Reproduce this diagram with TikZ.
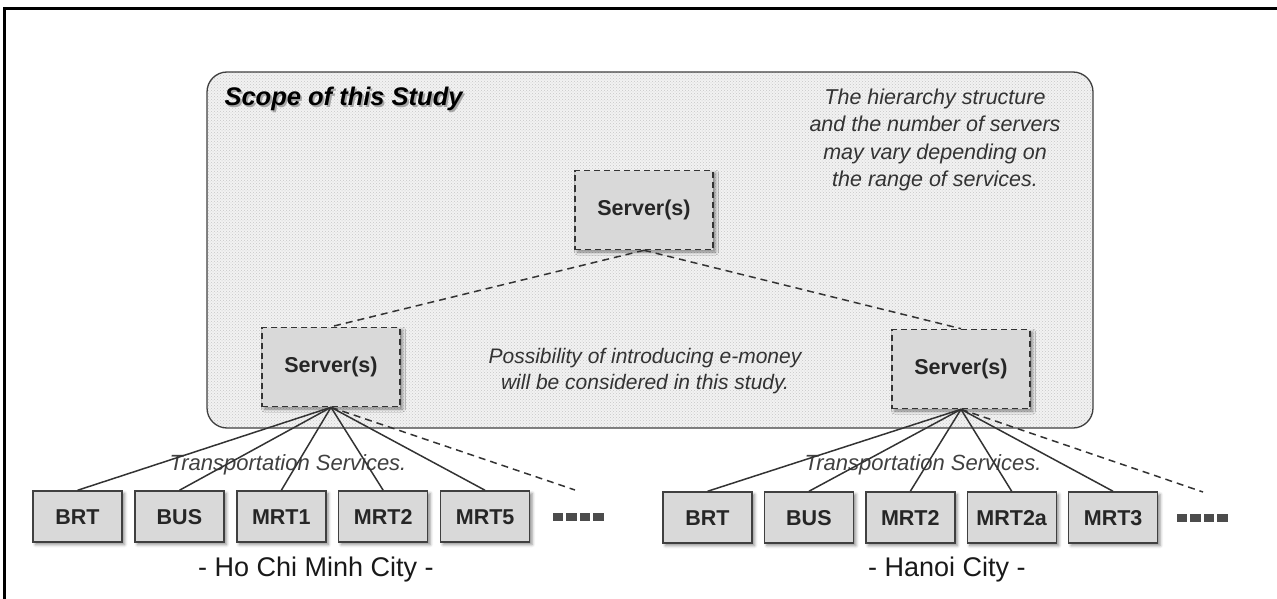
\documentclass[tikz,border=0pt]{standalone}
\usepackage{fontspec}
\setmainfont{Liberation Sans}
\usetikzlibrary{positioning,shadows.blur,patterns}

% little squares standing for further modes
\newcommand\moresq{\textcolor{black!70}{\rule{10.5pt}{8pt}}}
% text with a soft grey copy behind it
\newcommand\shadowed[1]{\leavevmode\rlap{\hspace{1.8pt}\raisebox{-1.8pt}{\textcolor{black!35}{#1}}}#1}

\begin{document}
\begin{tikzpicture}[x=1pt,y=-1pt,
	node distance=11.5pt,
	scopebox/.style={draw=black!75,line width=1.3pt,rounded corners=20pt,
		preaction={fill=black!5},pattern=crosshatch dots,pattern color=black!22,
		minimum width=886pt,minimum height=356pt},
	server/.style={draw=black!80,line width=1.6pt,dash pattern=on 6pt off 4pt,
		fill=black!15,minimum width=138pt,minimum height=79pt,
		font=\fontsize{21.5}{24}\selectfont\bfseries,text=black!85,
		blur shadow={shadow xshift=2.5pt,shadow yshift=-2.5pt,shadow blur radius=3pt,shadow opacity=45}},
	mode/.style={draw=black!75,line width=1.4pt,fill=black!15,
		minimum width=89pt,minimum height=51pt,text height=15.5pt,text depth=0pt,
		font=\fontsize{21.5}{24}\selectfont\bfseries,text=black!85,
		blur shadow={shadow xshift=2.5pt,shadow yshift=-2.5pt,shadow blur radius=3pt,shadow opacity=45}},
	more/.style={inner sep=0pt,anchor=west},
	note/.style={align=center,text=black!80,font=\fontsize{21.5}{27.5}\selectfont\itshape},
	service/.style={text=black!75,font=\fontsize{22}{24}\selectfont\itshape},
	city/.style={text=black!90,font=\fontsize{27}{29}\selectfont},
	fan/.style={black!80,line width=1.5pt},
	link/.style={black!80,line width=1.5pt,dash pattern=on 7pt off 5pt}
	]
	\useasboundingbox (0,0) rectangle (1277,599);
	\draw[line width=2.5pt] (4.5,599) |- (1277,8.5);

	% study area
	\node[scopebox] (scope) at (650,250) {};
	\node[anchor=west,text=black,font=\fontsize{25.5}{27}\selectfont\bfseries\itshape] (scopetitle) at (221,100) {\shadowed{Scope of this Study}};
	\node[note] (hierarchy) at (935,140) {The hierarchy structure\\and the number of servers\\may vary depending on\\the range of services.};
	\node[note,font=\fontsize{21}{25.5}\selectfont\itshape] (emoney) at (645,371) {Possibility of introducing e-money\\will be considered in this study.};

	% servers
	\node[server] (topsrv) at (644,210) {Server(s)};
	\node[server] (hcmsrv) at (331,367) {Server(s)};
	\node[server] (hnsrv) at (961,369) {Server(s)};

	% Ho Chi Minh City
	\node[service] (hcmservice) at (288,465) {Transportation Services.};
	\node[mode] (hcm1) at (77.5,516.5) {BRT};
	\node[mode,right=of hcm1] (hcm2) {BUS};
	\node[mode,right=of hcm2] (hcm3) {MRT1};
	\node[mode,right=of hcm3] (hcm4) {MRT2};
	\node[mode,right=of hcm4] (hcm5) {MRT5};
	\node[more,right=22pt of hcm5] (hcmmore) {\moresq\hspace{3pt}\moresq\hspace{3pt}\moresq\hspace{3pt}\moresq};
	\coordinate (hcmtail) at (575,490);
	\node[city] (hcmcity) at (316,570) {- Ho Chi Minh City -};

	% Hanoi City
	\node[service] (hnservice) at (923,465) {Transportation Services.};
	\node[mode] (hn1) at (707.5,517.5) {BRT};
	\node[mode,right=11pt of hn1] (hn2) {BUS};
	\node[mode,right=11pt of hn2] (hn3) {MRT2};
	\node[mode,right=11pt of hn3] (hn4) {MRT2a};
	\node[mode,right=11pt of hn4] (hn5) {MRT3};
	\node[more,right=18pt of hn5] (hnmore) {\moresq\hspace{3pt}\moresq\hspace{3pt}\moresq\hspace{3pt}\moresq};
	\coordinate (hntail) at (1203,492);
	\node[city] (hncity) at (947,570) {- Hanoi City -};

	\path[link]
	(topsrv.south) edge (hcmsrv.north)
	(topsrv.south) edge (hnsrv.north)
	(hcmsrv.south) edge (hcmtail)
	(hnsrv.south) edge (hntail);
	\path[fan]
	(hcmsrv.south) edge (hcm1.north)
	(hcmsrv.south) edge (hcm2.north)
	(hcmsrv.south) edge (hcm3.north)
	(hcmsrv.south) edge (hcm4.north)
	(hcmsrv.south) edge (hcm5.north)
	(hnsrv.south) edge (hn1.north)
	(hnsrv.south) edge (hn2.north)
	(hnsrv.south) edge (hn3.north)
	(hnsrv.south) edge (hn4.north)
	(hnsrv.south) edge (hn5.north);
\end{tikzpicture}
\end{document}
